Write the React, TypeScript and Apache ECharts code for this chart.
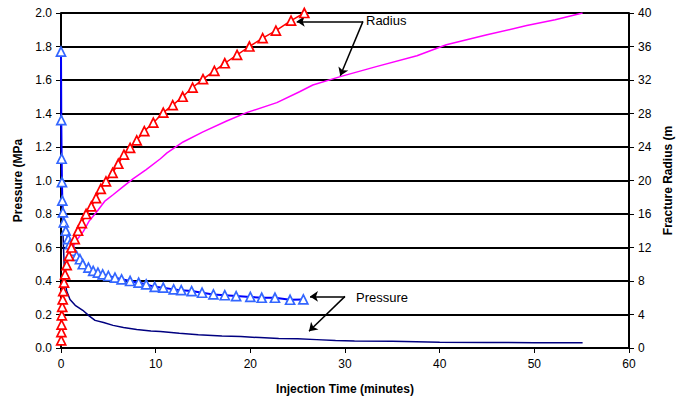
import React, { useEffect, useRef } from "react";
import * as echarts from "echarts";

// Pressure, model with triangles (MPa)
const pressureA_t = [0, 0.03, 0.07, 0.1, 0.14, 0.2, 0.3, 0.5, 0.77, 0.95, 1.3, 1.65, 2.0, 2.3, 2.9, 3.4, 3.9, 4.4, 5.0, 5.7, 6.4, 7.3, 8.2, 9.0, 9.9, 10.8, 11.9, 12.7, 13.8, 14.9, 16.1, 17.3, 18.5, 20.0, 21.2, 22.6, 24.2, 25.6];
const pressureA_v = [1.77, 1.36, 1.13, 0.99, 0.88, 0.81, 0.75, 0.70, 0.65, 0.62, 0.58, 0.55, 0.53, 0.50, 0.48, 0.46, 0.45, 0.44, 0.43, 0.42, 0.41, 0.40, 0.39, 0.38, 0.365, 0.36, 0.35, 0.345, 0.34, 0.33, 0.32, 0.315, 0.31, 0.305, 0.30, 0.30, 0.288, 0.29];

// Pressure, plain line (MPa)
const pressureB_t = [0.2, 0.25, 0.3, 0.35, 0.42, 0.6, 0.95, 1.5, 2.3, 3.0, 3.6, 4.5, 5.5, 6.6, 8.0, 9.5, 10.5, 12.5, 14.5, 17.0, 19.0, 21.0, 23.0, 25.0, 27.0, 29.0, 31.0, 35.0, 40.0, 45.0, 50.0, 55.1];
const pressureB_v = [0.70, 0.62, 0.55, 0.47, 0.40, 0.34, 0.29, 0.255, 0.225, 0.19, 0.165, 0.152, 0.135, 0.122, 0.11, 0.102, 0.099, 0.088, 0.079, 0.072, 0.068, 0.062, 0.056, 0.055, 0.05, 0.045, 0.042, 0.04, 0.035, 0.033, 0.032, 0.031];

// Fracture radius, model with triangles (m)
const radiusA_t = [0.02, 0.04, 0.06, 0.09, 0.13, 0.18, 0.24, 0.32, 0.43, 0.6, 0.85, 1.1, 1.45, 1.8, 2.2, 2.65, 3.2, 3.7, 4.2, 4.75, 5.45, 6.05, 6.65, 7.3, 8.0, 8.8, 9.75, 10.8, 11.8, 12.85, 13.9, 15.0, 16.2, 17.3, 18.6, 19.9, 21.3, 22.7, 24.3, 25.7];
const radiusA_v = [0.9, 1.9, 2.8, 3.9, 4.9, 5.8, 6.8, 7.8, 8.8, 9.9, 11.0, 12.0, 13.0, 14.0, 14.9, 16.0, 16.9, 17.9, 19.0, 19.9, 20.9, 22.0, 23.1, 23.9, 24.8, 25.9, 26.9, 28.1, 29.0, 30.0, 31.1, 32.1, 33.1, 34.0, 35.0, 36.0, 37.0, 37.9, 39.1, 40.0];

// Fracture radius, plain line (m)
const radiusB_t = [1.1, 1.6, 2.35, 3.0, 3.8, 4.6, 5.5, 6.5, 7.6, 9.0, 10.5, 11.2, 12.9, 15.0, 17.5, 19.6, 22.8, 25.2, 26.6, 29.5, 33.3, 37.6, 40.7, 45.0, 49.2, 52.2, 55.1];
const radiusB_v = [11.6, 12.8, 13.9, 15.2, 16.3, 17.5, 18.3, 19.2, 20.2, 21.3, 22.6, 23.3, 24.6, 25.8, 27.1, 28.1, 29.3, 30.6, 31.4, 32.4, 33.6, 34.9, 36.2, 37.4, 38.5, 39.2, 40.0];

// Annotation arrows (data coordinates)
const radiusArrowFrom = [31.9, 39.0];
const radiusArrowTo = [[24.9, 39.0], [29.5, 32.5]];
const pressureArrowFrom = [30.0, 0.308];
const pressureArrowTo = [[26.3, 0.308], [26.2, 0.10]];

const zip = (t: number[], v: number[]) => t.map((x, i) => [x, v[i]]);

const FONT = "Liberation Sans, Arial, sans-serif";

export default function App() {
  const ref = useRef<HTMLDivElement>(null);
  useEffect(() => {
    if (!ref.current) return;
    const chart = echarts.init(ref.current, undefined, { renderer: "svg" });
    const arrowStyle = {
      silent: true,
      symbol: ["none", "arrow"],
      symbolSize: 8,
      label: { show: false },
      lineStyle: { color: "#000", width: 1.5, type: "solid" },
      emphasis: { disabled: true },
    };
    chart.setOption({
      animation: false,
      backgroundColor: "#fff",
      textStyle: { fontFamily: FONT },
      grid: { left: 61, right: 59, top: 13, bottom: 49, containLabel: false },
      xAxis: {
        type: "value",
        min: 0,
        max: 60,
        interval: 10,
        name: "Injection Time (minutes)",
        nameLocation: "middle",
        nameGap: 35,
        nameTextStyle: { fontFamily: FONT, fontSize: 12, fontWeight: "bold", color: "#000" },
        axisLine: { show: true, onZero: false, lineStyle: { color: "#000", width: 2 } },
        axisTick: { show: true, inside: false, length: 5, lineStyle: { color: "#000", width: 1 } },
        axisLabel: { fontFamily: FONT, fontSize: 12, color: "#000", margin: 10 },
        splitLine: { show: false },
      },
      yAxis: [
        {
          type: "value",
          min: 0,
          max: 2,
          interval: 0.2,
          name: "Pressure (MPa",
          nameLocation: "middle",
          nameGap: 37,
          nameTextStyle: { fontFamily: FONT, fontSize: 12, fontWeight: "bold", color: "#000" },
          axisLine: { show: true, lineStyle: { color: "#000", width: 2 } },
          axisTick: { show: true, inside: false, length: 5, lineStyle: { color: "#000", width: 1 } },
          axisLabel: {
            fontFamily: FONT,
            fontSize: 12,
            color: "#000",
            margin: 9,
            formatter: (v: number) => v.toFixed(1),
          },
          splitLine: { show: true, lineStyle: { color: "#000", width: 2 } },
        },
        {
          type: "value",
          min: 0,
          max: 40,
          interval: 4,
          position: "right",
          name: "Fracture Radius (m",
          nameLocation: "middle",
          nameGap: 28,
          nameRotate: 90,
          nameTextStyle: { fontFamily: FONT, fontSize: 12, fontWeight: "bold", color: "#000" },
          axisLine: { show: true, lineStyle: { color: "#000", width: 2 } },
          axisTick: { show: true, inside: false, length: 5, lineStyle: { color: "#000", width: 1 } },
          axisLabel: { fontFamily: FONT, fontSize: 12, color: "#000", margin: 9 },
          splitLine: { show: false },
        },
      ],
      series: [
        {
          name: "Pressure B",
          type: "line",
          yAxisIndex: 0,
          data: zip(pressureB_t, pressureB_v),
          showSymbol: false,
          symbol: "none",
          lineStyle: { color: "#000080", width: 1.5 },
          itemStyle: { color: "#000080" },
          z: 3,
          markLine: {
            ...arrowStyle,
            data: pressureArrowTo.map((to) => [{ coord: pressureArrowFrom }, { coord: to }]),
          },
        },
        {
          name: "Radius B",
          type: "line",
          yAxisIndex: 1,
          data: zip(radiusB_t, radiusB_v),
          showSymbol: false,
          symbol: "none",
          lineStyle: { color: "#ff00ff", width: 1.5 },
          itemStyle: { color: "#ff00ff" },
          z: 3,
        },
        {
          name: "Pressure A",
          type: "line",
          yAxisIndex: 0,
          data: zip(pressureA_t, pressureA_v),
          symbol: "triangle",
          symbolSize: 9,
          lineStyle: { color: "#0000ff", width: 2 },
          itemStyle: { color: "#fff", borderColor: "#3366ff", borderWidth: 1.7 },
          z: 4,
        },
        {
          name: "Radius A",
          type: "line",
          yAxisIndex: 1,
          data: zip(radiusA_t, radiusA_v),
          symbol: "triangle",
          symbolSize: 9,
          lineStyle: { color: "#ff0000", width: 1.5 },
          itemStyle: { color: "#fff", borderColor: "#ff0000", borderWidth: 1.7 },
          z: 5,
          markLine: {
            ...arrowStyle,
            data: radiusArrowTo.map((to) => [{ coord: radiusArrowFrom }, { coord: to }]),
          },
        },
      ],
      graphic: [
        {
          type: "text",
          left: 366,
          top: 14,
          style: { text: "Radius", fontFamily: FONT, fontSize: 13, fill: "#000" },
        },
        {
          type: "text",
          left: 356,
          top: 291,
          style: { text: "Pressure", fontFamily: FONT, fontSize: 13, fill: "#000" },
        },
      ],
    });
    return () => chart.dispose();
  }, []);
  return <div ref={ref} style={{ width: 688, height: 400, position: "absolute", left: 0, top: 0 }} />;
}
